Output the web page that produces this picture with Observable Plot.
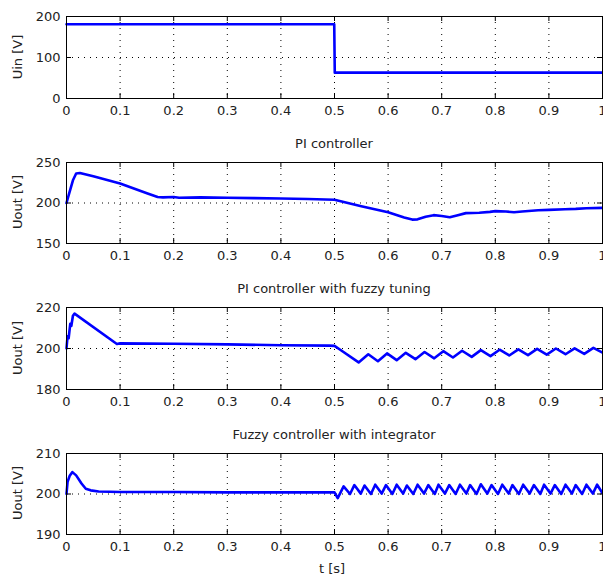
<!DOCTYPE html>
<html><head><meta charset="utf-8">
<script src="https://cdn.jsdelivr.net/npm/d3@7"></script>
<script src="https://cdn.jsdelivr.net/npm/@observablehq/plot@0.6"></script>
<style>
body{margin:0;background:#fff;}
#chart{position:relative;width:603px;height:578px;overflow:hidden;background:#fff;font-family:"DejaVu Sans",sans-serif;font-size:13px;color:#222;}
.lbl{position:absolute;white-space:nowrap;transform:translate(-50%,-50%);}
.ylbl{position:absolute;white-space:nowrap;transform:translate(-50%,-50%) rotate(-90deg);}
.panel{position:absolute;left:0;}
</style></head><body><div id="chart"></div>
<script>
// ---- shared axis data ----
const xTicks = [0, 0.1, 0.2, 0.3, 0.4, 0.5, 0.6, 0.7, 0.8, 0.9, 1];
const xTickLabels = ["0", "0.1", "0.2", "0.3", "0.4", "0.5", "0.6", "0.7", "0.8", "0.9", "1"];
const xLabel = "t [s]";

// ---- panel 1: input voltage ----
const uinTitle = "";
const uinYLabel = "Uin [V]";
const uinYTicks = [0, 100, 200];
const uinT = [0, 0.4995, 0.5005, 1];
const uinV = [181, 181, 63, 63];

// ---- panel 2: PI controller ----
const piTitle = "PI controller";
const piYLabel = "Uout [V]";
const piYTicks = [150, 200, 250];
const piT = [0, 0.005, 0.012, 0.018, 0.025, 0.05, 0.1, 0.15, 0.17, 0.18, 0.2, 0.21, 0.25, 0.3, 0.35, 0.4, 0.45, 0.5,
  0.55, 0.6, 0.63, 0.645, 0.655, 0.67, 0.685, 0.7, 0.715, 0.73, 0.745, 0.77, 0.79, 0.8, 0.82, 0.835, 0.85, 0.88, 0.9, 0.93, 0.95, 0.97, 1];
const piV = [200, 212, 228, 236.5, 237, 233, 224, 212, 207.5, 207, 207.5, 206.5, 207, 206.5, 206, 205.5, 205, 204,
  196, 188.5, 182, 179.5, 179.8, 183, 185, 184, 182.5, 185, 187.5, 188, 189, 190, 189.5, 188.5, 189.5, 191, 191.5, 192.3, 192.7, 193.5, 194];

// ---- panel 3: PI controller with fuzzy tuning ----
const fpTitle = "PI controller with fuzzy tuning";
const fpYLabel = "Uout [V]";
const fpYTicks = [180, 200, 220];
const fpT = [0, 0.002, 0.004, 0.007, 0.009, 0.012, 0.015, 0.094, 0.1, 0.2, 0.3, 0.4, 0.49, 0.5, 0.51, 0.545,
  0.563, 0.581, 0.598, 0.616, 0.633, 0.651, 0.668, 0.686, 0.703, 0.721, 0.738, 0.756, 0.773, 0.791, 0.808, 0.826,
  0.843, 0.861, 0.878, 0.896, 0.913, 0.931, 0.948, 0.966, 0.983, 1];
const fpV = [200, 206, 205, 212, 211, 216, 217, 202.2, 202.5, 202.3, 202.0, 201.6, 201.4, 201.3, 199.5, 193.2,
  197.2, 193.8, 197.6, 194.3, 197.9, 194.8, 198.3, 195.2, 198.7, 195.6, 198.9, 195.9, 199.2, 196.3, 199.4, 196.6,
  199.6, 196.8, 199.8, 197.0, 200.0, 197.2, 200.1, 197.4, 200.3, 198.0];

// ---- panel 4: Fuzzy controller with integrator ----
const fiTitle = "Fuzzy controller with integrator";
const fiYLabel = "Uout [V]";
const fiYTicks = [190, 200, 210];
const fiT = [0, 0.002, 0.006, 0.011, 0.018, 0.028, 0.036, 0.045, 0.06, 0.1, 0.2, 0.3, 0.4, 0.5, 0.506,
  0.517, 0.529, 0.537, 0.549, 0.556, 0.568, 0.576, 0.588, 0.596, 0.608, 0.616, 0.628, 0.635, 0.647, 0.655, 0.667,
  0.675, 0.687, 0.694, 0.706, 0.714, 0.726, 0.734, 0.746, 0.753, 0.765, 0.773, 0.785, 0.793, 0.805, 0.813, 0.825,
  0.832, 0.844, 0.852, 0.864, 0.872, 0.884, 0.891, 0.903, 0.911, 0.923, 0.931, 0.943, 0.950, 0.962, 0.970, 0.982,
  0.990, 1];
const fiV = [200, 203, 204.5, 205.4, 204.6, 202.6, 201.3, 200.9, 200.6, 200.5, 200.5, 200.4, 200.4, 200.4, 199.0,
  201.9, 200.0, 202.2, 200.1, 202.1, 200.0, 202.3, 200.1, 202.2, 200.0, 202.3, 200.1, 202.1, 200.0, 202.3, 200.1,
  202.2, 200.0, 202.3, 200.1, 202.2, 200.0, 202.3, 200.1, 202.2, 200.0, 202.4, 200.1, 202.2, 200.0, 202.3, 200.1,
  202.2, 200.0, 202.3, 200.1, 202.2, 200.0, 202.3, 200.1, 202.2, 200.0, 202.3, 200.1, 202.2, 200.0, 202.3, 200.1,
  202.3, 200.2];

// ---- layout ----
const chart = document.getElementById("chart");
const FRAME_L = 66, FRAME_R = 602;

function addDiv(cls, text, x, y) {
  const d = document.createElement("div");
  d.className = cls; d.textContent = text;
  d.style.left = x + "px"; d.style.top = y + "px";
  chart.appendChild(d);
}

function panel(t, v, yTicks, yLabel, title, boxTop, boxH) {
  const data = t.map((d, i) => ({t: d, u: v[i]}));
  const yDomain = [yTicks[0], yTicks[yTicks.length - 1]];
  const innerW = FRAME_R - FRAME_L;
  const svg = Plot.plot({
    width: 603, height: boxH + 26,
    marginLeft: FRAME_L, marginRight: 603 - FRAME_R, marginTop: 1, marginBottom: 25,
    x: {domain: [0, 1], axis: null},
    y: {domain: yDomain, axis: null},
    style: {fontFamily: "DejaVu Sans", fontSize: "13px", color: "#222", background: "transparent", overflow: "visible"},
    marks: [
      Plot.ruleX(xTicks.slice(1, -1), {x: d => d, stroke: "#000", strokeDasharray: "1,5", strokeWidth: 1}),
      Plot.ruleY(yTicks.slice(1, -1), {y: d => d, stroke: "#000", strokeDasharray: "1,5", strokeWidth: 1}),
      Plot.line(data, {x: "t", y: "u", stroke: "#0000ff", strokeWidth: 2.6, strokeLinejoin: "round"}),
      Plot.tickX(xTicks, {x: d => d, insetTop: boxH - 5, stroke: "#000"}),
      Plot.tickX(xTicks, {x: d => d, insetBottom: boxH - 5, stroke: "#000"}),
      Plot.tickY(yTicks, {y: d => d, insetRight: innerW - 5, stroke: "#000"}),
      Plot.tickY(yTicks, {y: d => d, insetLeft: innerW - 5, stroke: "#000"}),
      Plot.frame({stroke: "#000"}),
      Plot.text(xTicks, {x: d => d, text: xTickLabels, frameAnchor: "bottom", dy: 12, lineAnchor: "middle", fill: "#222"}),
      Plot.text(yTicks, {y: d => d, text: yTicks.map(String), frameAnchor: "left", dx: -6, textAnchor: "end", lineAnchor: "middle", fill: "#222"})
    ]
  });
  svg.classList.add("panel");
  svg.style.top = (boxTop - 1) + "px";
  chart.appendChild(svg);
  addDiv("ylbl", yLabel, 17, boxTop + boxH / 2);
  if (title) addDiv("lbl", title, (FRAME_L + FRAME_R) / 2, boxTop - 18.5);
}

panel(uinT, uinV, uinYTicks, uinYLabel, uinTitle, 15.5, 82);
panel(piT, piV, piYTicks, piYLabel, piTitle, 161.5, 81);
panel(fpT, fpV, fpYTicks, fpYLabel, fpTitle, 306.5, 82);
panel(fiT, fiV, fiYTicks, fiYLabel, fiTitle, 452.5, 81);
addDiv("lbl", xLabel, 332, 568);
</script></body></html>
